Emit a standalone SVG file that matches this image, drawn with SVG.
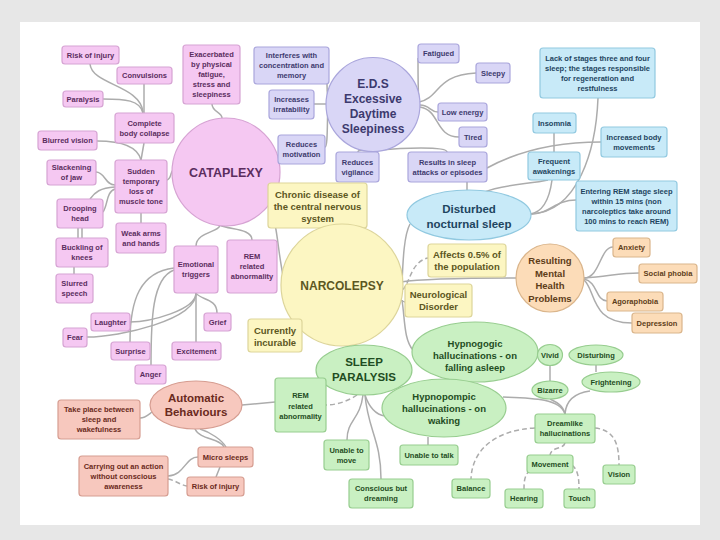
<svg xmlns="http://www.w3.org/2000/svg" width="720" height="540" viewBox="0 0 720 540">
<style>
text{font-family:"Liberation Sans",Arial,sans-serif;font-weight:bold;text-anchor:middle;font-size:7.5px}
.m{font-size:9.5px}
.l{font-size:12px}
.x{font-size:11.5px}
.k{font-size:12.5px}
.c{fill:none;stroke:#acacac;stroke-width:1.5}
.d{stroke-dasharray:5 3}
.pk rect,.pk circle{fill:#f5c8f2;stroke:#d6a3d3;stroke-width:1.2}
.pk text{fill:#5b2d5e}
.sa rect,.sa ellipse{fill:#f7c8be;stroke:#d69d91;stroke-width:1.2}
.sa text{fill:#6a2a20}
.pu rect,.pu circle{fill:#d9d6f6;stroke:#aaa6dc;stroke-width:1.2}
.pu text{fill:#3d3a6e}
.bl rect,.bl ellipse{fill:#c8eaf8;stroke:#91c9e0;stroke-width:1.2}
.bl text{fill:#1e4560}
.ye rect,.ye circle{fill:#fcf6c2;stroke:#ddd59a;stroke-width:1.2}
.ye text{fill:#5c5722}
.or rect,.or circle{fill:#fcdcb8;stroke:#dab58b;stroke-width:1.2}
.or text{fill:#5e3d18}
.gr rect,.gr ellipse{fill:#c9f0c2;stroke:#97cd8f;stroke-width:1.2}
.gr text{fill:#1f4d22}
</style>
<rect x="0" y="0" width="720" height="540" fill="#e7e7e7"/>
<rect x="20" y="22" width="680" height="503" fill="#ffffff"/>

<g id="connectors">
<path class="c" d="M90,64 C92,85 140,85 143,112"/>
<path class="c" d="M144,83 L144,113"/>
<path class="c" d="M103,99 C125,99 140,100 143,113"/>
<path class="c" d="M97,141 C125,141 138,148 141,160"/>
<path class="c" d="M144,143 L141,160"/>
<path class="c" d="M167,180 C172,178 170,172 173,170"/>
<path class="c" d="M96,172 C105,172 105,185 115,185"/>
<path class="c" d="M115,187 C100,188 95,192 90,199"/>
<path class="c" d="M115,189 C106,192 108,205 103,212"/>
<path class="c" d="M78,228 L78,238 M82,228 L82,238"/>
<path class="c" d="M74,267 L74,274"/>
<path class="c" d="M141,213 L141,223"/>
<path class="c" d="M212,104 C212,112 222,112 222,118"/>
<path class="c" d="M220,225 C220,232 196,232 196,246"/>
<path class="c" d="M220,225 C228,230 252,228 252,240"/>
<path class="c" d="M174,268 C140,272 130,300 130,342"/>
<path class="c" d="M174,270 C152,278 151,320 151,365"/>
<path class="c" d="M196,293 C196,310 150,322 130,322"/>
<path class="c" d="M196,293 C196,320 120,337 87,337"/>
<path class="c" d="M196,293 C200,300 217,298 217,313"/>
<path class="c" d="M196,293 L196,342"/>
<path class="c" d="M268,205 C278,220 277,250 284,280"/>
<path class="c" d="M327,84 C327,95 328,100 330,104"/>
<path class="c" d="M314,104 L328,104"/>
<path class="c" d="M325,147 C328,147 327,120 328,106"/>
<path class="c" d="M372,151 C370,152 358,148 358,152"/>
<path class="c" d="M380,150 C400,148 447,146 447,152"/>
<path class="c" d="M418,58 C418,80 418,95 419,100"/>
<path class="c" d="M419,102 C440,98 435,75 476,73"/>
<path class="c" d="M420,105 C430,105 430,112 438,112"/>
<path class="c" d="M420,107 C440,110 435,137 459,137"/>
<path class="c" d="M467,182 L467,190"/>
<path class="c" d="M487,168 C520,150 560,142 601,142"/>
<path class="c" d="M554,133 L554,152"/>
<path class="c" d="M552,180 C550,195 545,212 530,214"/>
<path class="c" d="M598,98 C596,150 578,212 531,214"/>
<path class="c" d="M531,214 C550,214 555,200 576,200"/>
<path class="c" d="M485,192 C500,185 530,184 548,180"/>
<path class="c" d="M410,224 C404,235 403,260 402,283"/>
<path class="c d" d="M402,290 C410,285 410,262 428,258"/>
<path class="c" d="M400,300 C402,300 403,302 405,302"/>
<path class="c" d="M401,282 C420,279 480,278 517,278"/>
<path class="c" d="M402,300 C405,320 404,340 413,350"/>
<path class="c" d="M584,278 C600,278 600,247 613,247"/>
<path class="c" d="M584,278 C610,276 620,273 639,273"/>
<path class="c" d="M584,279 C598,282 595,300 607,301"/>
<path class="c" d="M584,280 C596,290 590,323 632,323"/>
<path class="c d" d="M357,395 C350,400 338,405 326,405"/>
<path class="c" d="M242,405 L275,402"/>
<path class="c" d="M363,395 C360,420 347,420 347,440"/>
<path class="c" d="M365,395 C368,430 381,440 381,479"/>
<path class="c" d="M365,395 C370,410 378,415 385,416"/>
<path class="c" d="M428,437 L428,445"/>
<path class="c" d="M503,397 C530,398 560,398 565,414"/>
<path class="c" d="M550,366 L550,381"/>
<path class="c" d="M596,365 L596,372"/>
<path class="c" d="M590,391 C575,393 566,400 565,414"/>
<path class="c" d="M550,399 C556,402 563,405 565,414"/>
<path class="c d" d="M535,428 C495,430 472,450 471,479"/>
<path class="c d" d="M595,428 C615,430 619,445 619,465"/>
<path class="c d" d="M565,443 C563,450 552,446 550,455"/>
<path class="c d" d="M530,470 C525,475 524,480 524,489"/>
<path class="c d" d="M572,465 C578,470 579,478 579,489"/>
<path class="c" d="M140,418 C145,418 148,415 152,412"/>
<path class="c" d="M195,429 C200,440 220,438 224,447 M200,429 C210,432 222,440 226,447"/>
<path class="c" d="M198,457 C185,457 185,475 168,476"/>
<path class="c" d="M220,467 L216,477"/>
<path class="c d" d="M168,479 C175,480 180,485 187,486"/>
</g>

<!-- Cataplexy cluster -->
<g id="cataplexy" class="pk"><circle cx="226" cy="172" r="54"/><text class="k" x="226" y="176.5">CATAPLEXY</text></g>
<g id="risk-of-injury-1" class="pk"><rect x="62" y="46" width="57" height="18" rx="3"/><text x="90.5" y="57.6">Risk of injury</text></g>
<g id="convulsions" class="pk"><rect x="117" y="67" width="55" height="17" rx="3"/><text x="144.5" y="78.1">Convulsions</text></g>
<g id="paralysis" class="pk"><rect x="63" y="91" width="40" height="16" rx="3"/><text x="83" y="101.6">Paralysis</text></g>
<g id="exacerbated" class="pk"><rect x="183" y="45" width="57" height="59" rx="3"/><text x="211.5" y="57.1"><tspan x="211.5">Exacerbated</tspan><tspan x="211.5" dy="10">by physical</tspan><tspan x="211.5" dy="10">fatigue,</tspan><tspan x="211.5" dy="10">stress and</tspan><tspan x="211.5" dy="10">sleepiness</tspan></text></g>
<g id="complete-body-collapse" class="pk"><rect x="115" y="113" width="59" height="30" rx="3"/><text x="144.5" y="125.6"><tspan x="144.5">Complete</tspan><tspan x="144.5" dy="10">body collapse</tspan></text></g>
<g id="blurred-vision" class="pk"><rect x="38" y="131" width="59" height="19" rx="3"/><text x="67.5" y="143.1">Blurred vision</text></g>
<g id="slackening" class="pk"><rect x="47" y="160" width="49" height="25" rx="3"/><text x="71.5" y="170.1"><tspan x="71.5">Slackening</tspan><tspan x="71.5" dy="10">of jaw</tspan></text></g>
<g id="sudden-loss" class="pk"><rect x="115" y="160" width="52" height="53" rx="3"/><text x="141" y="174.1"><tspan x="141">Sudden</tspan><tspan x="141" dy="10">temporary</tspan><tspan x="141" dy="10">loss of</tspan><tspan x="141" dy="10">muscle tone</tspan></text></g>
<g id="drooping-head" class="pk"><rect x="57" y="199" width="46" height="29" rx="3"/><text x="80" y="211.1"><tspan x="80">Drooping</tspan><tspan x="80" dy="10">head</tspan></text></g>
<g id="weak-arms" class="pk"><rect x="116" y="223" width="50" height="30" rx="3"/><text x="141" y="235.6"><tspan x="141">Weak arms</tspan><tspan x="141" dy="10">and hands</tspan></text></g>
<g id="buckling" class="pk"><rect x="56" y="238" width="52" height="29" rx="3"/><text x="82" y="250.1"><tspan x="82">Buckling of</tspan><tspan x="82" dy="10">knees</tspan></text></g>
<g id="slurred-speech" class="pk"><rect x="56" y="274" width="37" height="29" rx="3"/><text x="74.5" y="286.1"><tspan x="74.5">Slurred</tspan><tspan x="74.5" dy="10">speech</tspan></text></g>
<g id="emotional-triggers" class="pk"><rect x="174" y="246" width="44" height="47" rx="3"/><text x="196" y="267.1"><tspan x="196">Emotional</tspan><tspan x="196" dy="10">triggers</tspan></text></g>
<g id="rem-pink" class="pk"><rect x="227" y="240" width="50" height="53" rx="3"/><text x="252" y="259.1"><tspan x="252">REM</tspan><tspan x="252" dy="10">related</tspan><tspan x="252" dy="10">abnormality</tspan></text></g>
<g id="laughter" class="pk"><rect x="91" y="313" width="39" height="18" rx="3"/><text x="110.5" y="324.6">Laughter</text></g>
<g id="grief" class="pk"><rect x="204" y="313" width="27" height="18" rx="3"/><text x="217.5" y="324.6">Grief</text></g>
<g id="fear" class="pk"><rect x="63" y="328" width="24" height="19" rx="3"/><text x="75" y="340.1">Fear</text></g>
<g id="surprise" class="pk"><rect x="111" y="342" width="39" height="18" rx="3"/><text x="130.5" y="353.6">Surprise</text></g>
<g id="excitement" class="pk"><rect x="172" y="342" width="49" height="18" rx="3"/><text x="196.5" y="353.6">Excitement</text></g>
<g id="anger" class="pk"><rect x="135" y="365" width="31" height="19" rx="3"/><text x="150.5" y="377.1">Anger</text></g>

<!-- Automatic behaviours -->
<g id="automatic-behaviours" class="sa"><ellipse cx="196" cy="405" rx="46" ry="24"/><text class="x" x="196" y="402"><tspan x="196">Automatic</tspan><tspan x="196" dy="14">Behaviours</tspan></text></g>
<g id="take-place" class="sa"><rect x="58" y="400" width="82" height="39" rx="3"/><text x="99" y="412.1"><tspan x="99">Take place between</tspan><tspan x="99" dy="10">sleep and</tspan><tspan x="99" dy="10">wakefulness</tspan></text></g>
<g id="micro-sleeps" class="sa"><rect x="198" y="447" width="55" height="20" rx="3"/><text x="225.5" y="459.6">Micro sleeps</text></g>
<g id="carrying-out" class="sa"><rect x="79" y="456" width="89" height="40" rx="3"/><text x="123.5" y="468.6"><tspan x="123.5">Carrying out an action</tspan><tspan x="123.5" dy="10">without conscious</tspan><tspan x="123.5" dy="10">awareness</tspan></text></g>
<g id="risk-of-injury-2" class="sa"><rect x="187" y="477" width="57" height="19" rx="3"/><text x="215.5" y="489.1">Risk of injury</text></g>

<!-- EDS -->
<g id="eds" class="pu"><circle cx="373" cy="104.5" r="47"/><text class="l" x="373" y="87.5"><tspan x="373">E.D.S</tspan><tspan x="373" dy="15">Excessive</tspan><tspan x="373" dy="15">Daytime</tspan><tspan x="373" dy="15">Sleepiness</tspan></text></g>
<g id="interferes" class="pu"><rect x="254" y="47" width="75" height="37" rx="3"/><text x="291.5" y="58.1"><tspan x="291.5">Interferes with</tspan><tspan x="291.5" dy="10">concentration and</tspan><tspan x="291.5" dy="10">memory</tspan></text></g>
<g id="increases-irratability" class="pu"><rect x="269" y="90" width="45" height="29" rx="3"/><text x="291.5" y="102.1"><tspan x="291.5">Increases</tspan><tspan x="291.5" dy="10">irratability</tspan></text></g>
<g id="reduces-motivation" class="pu"><rect x="278" y="135" width="47" height="29" rx="3"/><text x="301.5" y="147.1"><tspan x="301.5">Reduces</tspan><tspan x="301.5" dy="10">motivation</tspan></text></g>
<g id="reduces-vigilance" class="pu"><rect x="336" y="152" width="43" height="30" rx="3"/><text x="357.5" y="164.6"><tspan x="357.5">Reduces</tspan><tspan x="357.5" dy="10">vigilance</tspan></text></g>
<g id="fatigued" class="pu"><rect x="418" y="44" width="41" height="19" rx="3"/><text x="438.5" y="56.1">Fatigued</text></g>
<g id="sleepy" class="pu"><rect x="476" y="63" width="34" height="20" rx="3"/><text x="493" y="75.6">Sleepy</text></g>
<g id="low-energy" class="pu"><rect x="438" y="103" width="49" height="18" rx="3"/><text x="462.5" y="114.6">Low energy</text></g>
<g id="tired" class="pu"><rect x="459" y="127" width="28" height="20" rx="3"/><text x="473" y="139.6">Tired</text></g>
<g id="sleep-attacks" class="pu"><rect x="408" y="152" width="79" height="30" rx="3"/><text x="447.5" y="164.6"><tspan x="447.5">Results in sleep</tspan><tspan x="447.5" dy="10">attacks or episodes</tspan></text></g>

<!-- Disturbed nocturnal sleep -->
<g id="lack-of-stages" class="bl"><rect x="540" y="48" width="115" height="50" rx="3"/><text x="597.5" y="60.6"><tspan x="597.5">Lack of stages three and four</tspan><tspan x="597.5" dy="10">sleep; the stages responsible</tspan><tspan x="597.5" dy="10">for regeneration and</tspan><tspan x="597.5" dy="10">restfulness</tspan></text></g>
<g id="insomnia" class="bl"><rect x="533" y="113" width="43" height="20" rx="3"/><text x="554.5" y="125.6">Insomnia</text></g>
<g id="increased-body-movements" class="bl"><rect x="601" y="127" width="66" height="30" rx="3"/><text x="634" y="139.6"><tspan x="634">Increased body</tspan><tspan x="634" dy="10">movements</tspan></text></g>
<g id="frequent-awakenings" class="bl"><rect x="528" y="152" width="52" height="28" rx="3"/><text x="554" y="163.6"><tspan x="554">Frequent</tspan><tspan x="554" dy="10">awakenings</tspan></text></g>
<g id="entering-rem" class="bl"><rect x="576" y="181" width="101" height="50" rx="3"/><text x="626.5" y="193.6"><tspan x="626.5">Entering REM stage sleep</tspan><tspan x="626.5" dy="10">within 15 mins (non</tspan><tspan x="626.5" dy="10">narcoleptics take around</tspan><tspan x="626.5" dy="10">100 mins to reach REM)</tspan></text></g>
<g id="disturbed-nocturnal-sleep" class="bl"><ellipse cx="469" cy="215" rx="62" ry="25"/><text class="x" x="469" y="213"><tspan x="469">Disturbed</tspan><tspan x="469" dy="15">nocturnal sleep</tspan></text></g>

<!-- Narcolepsy -->
<g id="chronic-disease" class="ye"><rect x="268" y="183" width="99" height="45" rx="3"/><text class="m" x="317.5" y="197.5"><tspan x="317.5">Chronic disease of</tspan><tspan x="317.5" dy="12.3">the central nervous</tspan><tspan x="317.5" dy="12.3">system</tspan></text></g>
<g id="narcolepsy" class="ye"><circle cx="342" cy="285" r="61"/><text class="l" x="342" y="289.5">NARCOLEPSY</text></g>
<g id="affects" class="ye"><rect x="428" y="244" width="78" height="33" rx="3"/><text class="m" x="467" y="257.5"><tspan x="467">Affects 0.5% of</tspan><tspan x="467" dy="12.5">the population</tspan></text></g>
<g id="neurological-disorder" class="ye"><rect x="405" y="284" width="67" height="33" rx="3"/><text class="m" x="438.5" y="297.8"><tspan x="438.5">Neurological</tspan><tspan x="438.5" dy="11.7">Disorder</tspan></text></g>
<g id="currently-incurable" class="ye"><rect x="248" y="319" width="54" height="33" rx="3"/><text class="m" x="275" y="333.5"><tspan x="275">Currently</tspan><tspan x="275" dy="12.3">incurable</tspan></text></g>

<!-- Mental health -->
<g id="mental-health" class="or"><circle cx="550" cy="278" r="34"/><text class="m" x="550" y="264"><tspan x="550">Resulting</tspan><tspan x="550" dy="12.6">Mental</tspan><tspan x="550" dy="12.6">Health</tspan><tspan x="550" dy="12.6">Problems</tspan></text></g>
<g id="anxiety" class="or"><rect x="613" y="238" width="37" height="19" rx="3"/><text x="631.5" y="250.1">Anxiety</text></g>
<g id="social-phobia" class="or"><rect x="639" y="264" width="58" height="19" rx="3"/><text x="668" y="276.1">Social phobia</text></g>
<g id="agoraphobia" class="or"><rect x="607" y="292" width="56" height="19" rx="3"/><text x="635" y="304.1">Agoraphobia</text></g>
<g id="depression" class="or"><rect x="632" y="313" width="50" height="20" rx="3"/><text x="657" y="325.6">Depression</text></g>

<!-- Sleep paralysis -->
<g id="sleep-paralysis" class="gr"><ellipse cx="364" cy="370" rx="48" ry="25"/><text class="x" x="364" y="365.8"><tspan x="364">SLEEP</tspan><tspan x="364" dy="15">PARALYSIS</tspan></text></g>
<g id="hypnogogic" class="gr"><ellipse cx="475" cy="352" rx="63" ry="30"/><text class="m" x="475" y="346.7"><tspan x="475">Hypnogogic</tspan><tspan x="475" dy="12">hallucinations - on</tspan><tspan x="475" dy="12">falling asleep</tspan></text></g>
<g id="hypnopompic" class="gr"><ellipse cx="444" cy="408" rx="62" ry="29"/><text class="m" x="444" y="399.5"><tspan x="444">Hypnopompic</tspan><tspan x="444" dy="12">hallucinations - on</tspan><tspan x="444" dy="12">waking</tspan></text></g>
<g id="rem-green" class="gr"><rect x="275" y="378" width="51" height="54" rx="3"/><text x="300.5" y="398"><tspan x="300.5">REM</tspan><tspan x="300.5" dy="10.5">related</tspan><tspan x="300.5" dy="10.5">abnormality</tspan></text></g>
<g id="unable-to-move" class="gr"><rect x="324" y="440" width="45" height="30" rx="3"/><text x="346.5" y="452.6"><tspan x="346.5">Unable to</tspan><tspan x="346.5" dy="10">move</tspan></text></g>
<g id="unable-to-talk" class="gr"><rect x="400" y="445" width="58" height="20" rx="3"/><text x="429" y="457.6">Unable to talk</text></g>
<g id="conscious-but-dreaming" class="gr"><rect x="349" y="479" width="64" height="29" rx="3"/><text x="381" y="491.1"><tspan x="381">Conscious but</tspan><tspan x="381" dy="10">dreaming</tspan></text></g>
<g id="balance" class="gr"><rect x="452" y="479" width="38" height="19" rx="3"/><text x="471" y="491.1">Balance</text></g>
<g id="vivid" class="gr"><ellipse cx="550" cy="355" rx="12.5" ry="10.5"/><text x="550" y="357.6">Vivid</text></g>
<g id="disturbing" class="gr"><ellipse cx="596" cy="355" rx="27" ry="10"/><text x="596" y="357.6">Disturbing</text></g>
<g id="frightening" class="gr"><ellipse cx="611" cy="382" rx="29" ry="10"/><text x="611" y="384.6">Frightening</text></g>
<g id="bizarre" class="gr"><ellipse cx="550" cy="390" rx="18" ry="9"/><text x="550" y="392.6">Bizarre</text></g>
<g id="dreamlike" class="gr"><rect x="535" y="414" width="60" height="29" rx="3"/><text x="565" y="426.1"><tspan x="565">Dreamlike</tspan><tspan x="565" dy="10">hallucinations</tspan></text></g>
<g id="movement" class="gr"><rect x="527" y="455" width="46" height="18" rx="3"/><text x="550" y="466.6">Movement</text></g>
<g id="vision" class="gr"><rect x="603" y="465" width="32" height="19" rx="3"/><text x="619" y="477.1">Vision</text></g>
<g id="hearing" class="gr"><rect x="505" y="489" width="38" height="19" rx="3"/><text x="524" y="501.1">Hearing</text></g>
<g id="touch" class="gr"><rect x="564" y="489" width="31" height="19" rx="3"/><text x="579.5" y="501.1">Touch</text></g>
</svg>
